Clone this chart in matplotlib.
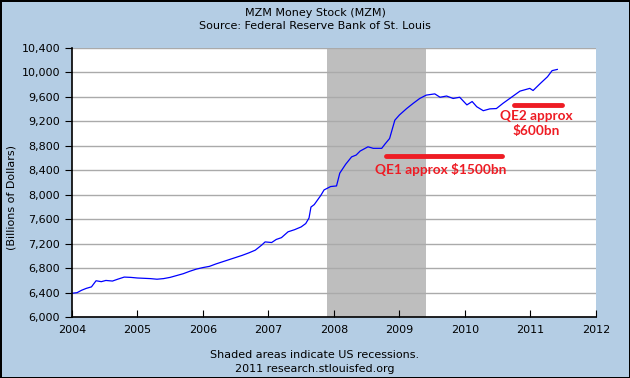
import matplotlib
matplotlib.use("Agg")
import matplotlib.pyplot as plt
from matplotlib.ticker import FuncFormatter

# MZM, billions of dollars
years = [2004.00, 2004.08, 2004.15, 2004.22, 2004.30, 2004.37, 2004.45, 2004.52,
         2004.62, 2004.70, 2004.80, 2004.90, 2005.00, 2005.10, 2005.20, 2005.30,
         2005.40, 2005.50, 2005.60, 2005.70, 2005.80, 2005.90, 2006.00, 2006.10,
         2006.20, 2006.30, 2006.40, 2006.50, 2006.60, 2006.70, 2006.80, 2006.90,
         2006.95, 2007.05, 2007.12, 2007.20, 2007.30, 2007.40, 2007.50, 2007.57,
         2007.62, 2007.65, 2007.70, 2007.75, 2007.80, 2007.85, 2007.95, 2008.04,
         2008.09, 2008.18, 2008.27, 2008.34, 2008.40, 2008.52, 2008.60, 2008.73,
         2008.78, 2008.85, 2008.93, 2009.00, 2009.11, 2009.21, 2009.31, 2009.41,
         2009.54, 2009.62, 2009.72, 2009.82, 2009.92, 2010.03, 2010.11, 2010.18,
         2010.28, 2010.38, 2010.48, 2010.58, 2010.71, 2010.84, 2010.99, 2011.04,
         2011.15, 2011.26, 2011.33, 2011.41]
mzm = [6390, 6400, 6440, 6470, 6495, 6595, 6580, 6600,
       6590, 6620, 6655, 6650, 6640, 6635, 6630, 6620,
       6630, 6650, 6680, 6710, 6750, 6785, 6810, 6830,
       6870, 6905, 6940, 6975, 7010, 7050, 7095, 7180,
       7230, 7220, 7270, 7300, 7395, 7430, 7475, 7530,
       7620, 7800, 7840, 7915, 7990, 8080, 8135, 8145,
       8355, 8500, 8620, 8650, 8715, 8785, 8760, 8760,
       8830, 8920, 9220, 9305, 9410, 9495, 9575, 9630,
       9650, 9595, 9615, 9575, 9595, 9470, 9525, 9440,
       9375, 9405, 9410, 9495, 9595, 9695, 9740, 9705,
       9820, 9930, 10030, 10050]

recession = (2007.89, 2009.40)
qe1 = (2008.80, 2010.57, 8630)
qe2 = (2010.75, 2011.48, 9470)

bg = "#b4cde4"
fig = plt.figure(figsize=(6.3, 3.78), dpi=100)
fig.patch.set_facecolor(bg)
fig.patch.set_edgecolor("black")
fig.patch.set_linewidth(2)

ax = fig.add_axes([0.114, 0.161, 0.832, 0.712])
ax.axvspan(recession[0], recession[1], color="#bebebe", zorder=1, lw=0)
ax.plot(years, mzm, color="#0000ff", lw=0.9, zorder=3)

ax.set_xlim(2004, 2012)
ax.set_ylim(6000, 10400)
ax.set_xticks(range(2004, 2013))
ax.set_yticks(range(6000, 10401, 400))
ax.yaxis.set_major_formatter(FuncFormatter(lambda v, p: f"{int(v):,}"))
ax.grid(axis="y", color="#aaaaaa", lw=1, zorder=2)
ax.set_axisbelow(False)
for s in ["top", "right"]:
    ax.spines[s].set_visible(False)
for s in ["left", "bottom"]:
    ax.spines[s].set_linewidth(1.2)
    ax.spines[s].set_zorder(4)
ax.tick_params(axis="x", direction="in", length=5, labelsize=8, pad=6)
ax.tick_params(axis="y", direction="out", length=5, labelsize=8)

fig.text(12 / 630, 0.477, "(Billions of Dollars)", rotation=90, ha="center", va="center", fontsize=8)

# QE annotations
red = "#ee1c24"
ax.plot([qe1[0], qe1[1]], [qe1[2], qe1[2]], color=red, lw=3.5, solid_capstyle="round", zorder=5)
ax.text((qe1[0] + qe1[1]) / 2 - 0.05, qe1[2] - 110, "QE1 approx $1500bn", color=red,
        fontsize=9.8, fontweight="bold", family="Lato", ha="center", va="top", zorder=5)
ax.plot([qe2[0], qe2[1]], [qe2[2], qe2[2]], color=red, lw=3.5, solid_capstyle="round", zorder=5)
ax.text((qe2[0] + qe2[1]) / 2 - 0.02, qe2[2] - 80, "QE2 approx\n$600bn", color=red,
        fontsize=9.8, fontweight="bold", family="Lato", ha="center", va="top",
        linespacing=1.3, zorder=5)

fig.text(0.5, 0.965, "MZM Money Stock (MZM)", ha="center", va="center", fontsize=8)
fig.text(0.5, 0.93, "Source: Federal Reserve Bank of St. Louis", ha="center", va="center", fontsize=8)
fig.text(0.5, 0.06, "Shaded areas indicate US recessions.", ha="center", va="center", fontsize=8)
fig.text(0.5, 0.025, "2011 research.stlouisfed.org", ha="center", va="center", fontsize=8)

fig.savefig("out.png", dpi=100, facecolor=bg, edgecolor="black")
